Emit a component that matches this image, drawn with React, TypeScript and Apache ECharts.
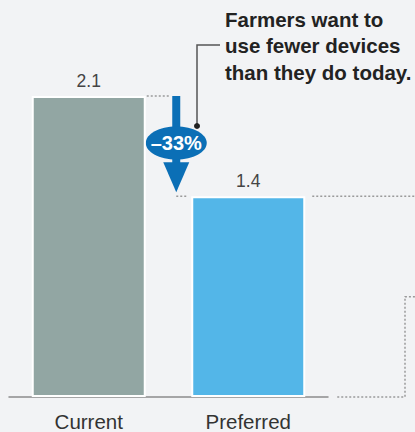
import React, { useEffect, useRef } from "react";
import * as echarts from "echarts";

const categories = ["Current", "Preferred"];
const values = [2.1, 1.4];
const barColors = ["#92a6a3", "#53b6e8"];
const changeLabel = "–33%";
const calloutLines = ["Farmers want to", "use fewer devices", "than they do today."];

const FONT = "'Liberation Sans', Arial, Helvetica, sans-serif";

export default function App() {
  const ref = useRef<HTMLDivElement>(null);
  useEffect(() => {
    if (!ref.current) return;
    const chart = echarts.init(ref.current, undefined, { renderer: "svg" });
    chart.setOption({
      animation: false,
      backgroundColor: "#f2f3f5",
      grid: { left: 9, right: 87, top: 96, bottom: 35 },
      xAxis: {
        type: "category",
        data: categories,
        axisLine: { lineStyle: { color: "#8c8c8c", width: 1.5 } },
        axisTick: { show: false },
        axisLabel: { fontSize: 20.5, color: "#333", fontFamily: FONT, margin: 14 },
      },
      yAxis: { type: "value", min: 0, max: 2.1, show: false, splitLine: { show: false } },
      series: [
        {
          type: "bar",
          barWidth: 114,
          data: values.map((v, i) => ({ value: v, itemStyle: { color: barColors[i] } })),
          itemStyle: { borderColor: "#ffffff", borderWidth: 2 },
          label: {
            show: true,
            position: "top",
            distance: 6,
            fontSize: 17.5,
            color: "#444",
            fontFamily: FONT,
            formatter: (p: any) => p.value.toFixed(1),
          },
        },
      ],
    });

    const p0 = chart.convertToPixel({ gridIndex: 0 }, [0, values[0]]) as number[];
    const p1 = chart.convertToPixel({ gridIndex: 0 }, [1, values[1]]) as number[];
    const base = chart.convertToPixel({ gridIndex: 0 }, [1, 0]) as number[];
    const half = chart.convertToPixel({ gridIndex: 0 }, [1, values[1] / 2]) as number[];
    const hw = 57;
    const r0 = p0[0] + hw;
    const l1 = p1[0] - hw;
    const r1 = p1[0] + hw;
    const ax = r0 + 30.5; // arrow center x
    const dotted = { stroke: "#9a9a9a", lineWidth: 1.5, lineDash: [2, 2] };
    const blue = "#0b6fb6";

    chart.setOption({
      graphic: [
        { type: "line", shape: { x1: r0 + 1, y1: p0[1], x2: ax - 6, y2: p0[1] }, style: dotted, silent: true },
        { type: "line", shape: { x1: ax, y1: p1[1], x2: l1 - 3, y2: p1[1] }, style: dotted, silent: true },
        { type: "line", shape: { x1: r1 + 7, y1: p1[1], x2: 415, y2: p1[1] }, style: dotted, silent: true },
        {
          type: "polyline",
          shape: { points: [[r1 + 32, base[1]], [405, base[1]], [405, half[1]], [415, half[1]]] },
          style: { ...dotted, fill: null },
          silent: true,
        },
        { type: "rect", shape: { x: ax - 4, y: p0[1], width: 8, height: p1[1] - p0[1] - 25 }, style: { fill: blue } },
        {
          type: "polygon",
          shape: { points: [[ax - 13, p1[1] - 34], [ax + 13, p1[1] - 34], [ax, p1[1] - 4]] },
          style: { fill: blue },
        },
        { type: "ellipse", shape: { cx: ax, cy: 143, rx: 30.5, ry: 16.5 }, style: { fill: blue } },
        {
          type: "text",
          x: ax,
          y: 143,
          style: {
            text: changeLabel,
            fill: "#fff",
            font: `bold 20px ${FONT}`,
            align: "center",
            verticalAlign: "middle",
          },
        },
        {
          type: "polyline",
          shape: { points: [[197, 126], [197, 45], [220, 45]] },
          style: { stroke: "#555", lineWidth: 1.5, fill: null },
        },
        { type: "circle", shape: { cx: 197, cy: 126, r: 3 }, style: { fill: "#222" } },
        ...calloutLines.map((t, i) => ({
          type: "text",
          x: 225,
          y: 19 + i * 26.5,
          style: {
            text: t,
            fill: "#222",
            font: `bold 20.5px ${FONT}`,
            align: "left",
            verticalAlign: "middle",
          },
        })),
      ],
    });
    return () => chart.dispose();
  }, []);
  return (
    <div
      ref={ref}
      style={{ position: "absolute", left: 0, top: 0, width: 415, height: 432, background: "#f2f3f5" }}
    />
  );
}
